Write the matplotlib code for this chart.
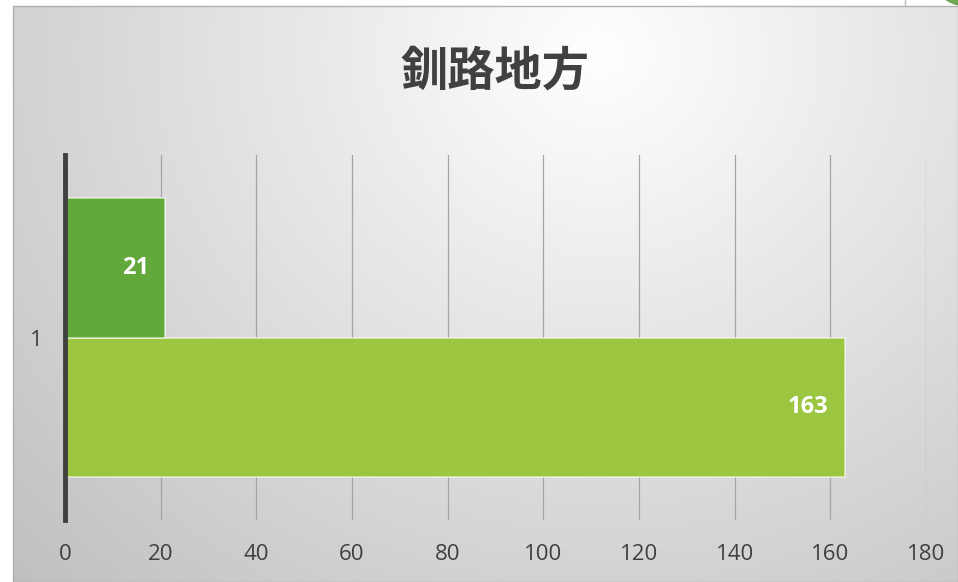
import numpy as np
import matplotlib
matplotlib.use("Agg")
from matplotlib import pyplot as plt
from matplotlib.patches import Rectangle, Ellipse

# chart data
title = "釧路地方"
category = ["1"]
values = [163, 21]          # bottom bar, top bar
colors = ["#9dc640", "#63a83a"]
xticks = list(range(0, 181, 20))

W, H = 958, 582
fig = plt.figure(figsize=(W / 100, H / 100), dpi=100)
fig.patch.set_facecolor("white")

# chart area with radial gradient
cl, cb, cr, ct = 13 / W, 0 / H, 1.0, (H - 6) / H
bg = fig.add_axes([cl, cb, cr - cl, ct - cb])
ny, nx = 300, 500
yy, xx = np.mgrid[0:1:ny * 1j, 0:1:nx * 1j]
r = np.sqrt(((xx - 0.62) * 1.5) ** 2 + ((yy - 0.08) * 1.0) ** 2)
shade = np.clip(1.0 - 0.19 * r, 0, 1)
bg.imshow(np.dstack([shade] * 3), extent=[0, 1, 1, 0], aspect="auto")
bg.set_xlim(0, 1)
bg.set_ylim(1, 0)
bg.axis("off")
fig.add_artist(Rectangle((cl, cb), cr - cl, ct - cb, transform=fig.transFigure,
                         fill=False, edgecolor="#b0b0b0", lw=1.0))
# bits of neighbour shapes at top right
fig.add_artist(plt.Line2D([905 / W, 905 / W], [(H - 6) / H, 1.0], transform=fig.transFigure,
                          color="#c0c0c0", lw=1.0))
fig.add_artist(Ellipse((968 / W, (H + 14) / H), 60 / W, 40 / H, transform=fig.transFigure,
                       color="#6aa84f", clip_on=False))

fig.text(495 / W, (H - 72) / H, title, ha="center", va="center",
         fontsize=34, fontweight="bold", color="#404040",
         family=["Noto Sans CJK JP", "DejaVu Sans"])

ax = fig.add_axes([65 / W, 62 / H, (926 - 65) / W, (520 - 155) / H])
ax.patch.set_alpha(0)
h = 0.381
offs = [-h / 2, h / 2]
for v, c, o in zip(values, colors, offs):
    ax.barh(1 + o, v, height=h, color=c, edgecolor=(1, 1, 1, 0.6), lw=1.2, zorder=3)
    ax.annotate(str(v), (v, 1 + o), xytext=(-12, 0), textcoords="offset points",
                ha="right", va="center", color="white", fontsize=17, fontweight="bold",
                family="Open Sans", zorder=4)

ax.set_xlim(0, 180)
ax.set_ylim(0.5, 1.5)
ax.set_xticks(xticks)
ax.set_xticklabels([str(t) for t in xticks], fontsize=16, color="#404040", family="Open Sans")
ax.set_yticks([1])
ax.set_yticklabels(category, fontsize=16, color="#404040", family="Open Sans")
ax.tick_params(axis="x", length=0, pad=17)
ax.tick_params(axis="y", length=0, pad=16)
ax.grid(axis="x", color="#a4a4a4", lw=0.9, zorder=1)
for s in ["top", "right", "bottom"]:
    ax.spines[s].set_visible(False)
ax.spines["left"].set_color("#404040")
ax.spines["left"].set_linewidth(3.5)
ax.spines["left"].set_zorder(5)

fig.savefig("out.png", dpi=100)
